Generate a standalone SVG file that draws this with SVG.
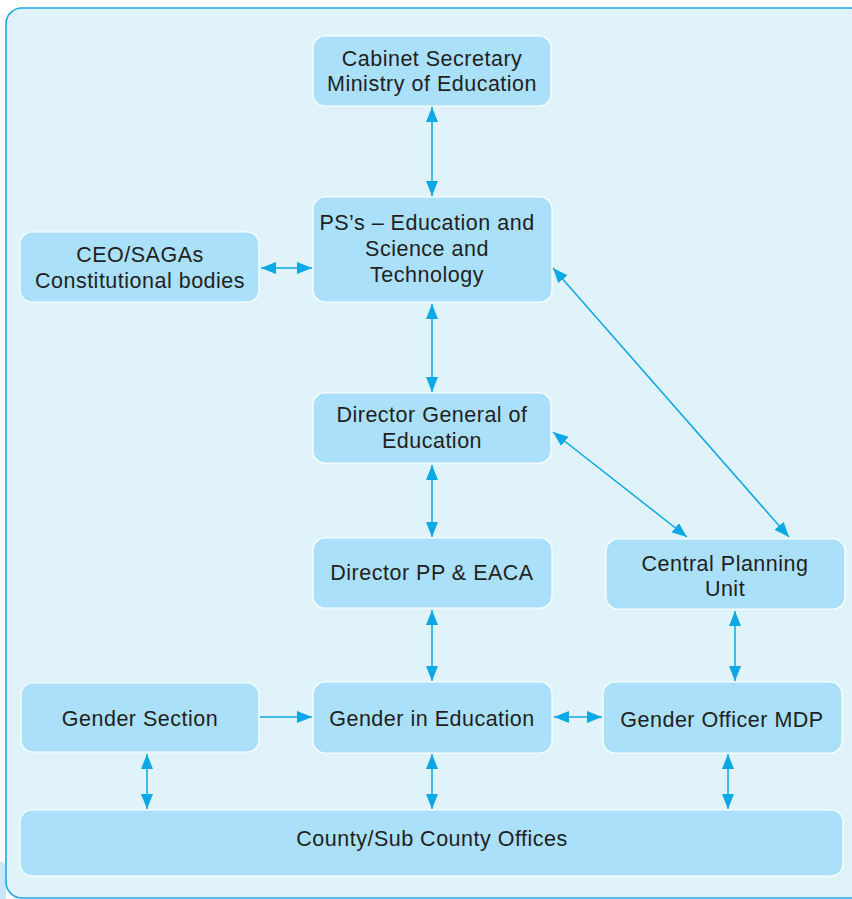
<svg xmlns="http://www.w3.org/2000/svg" width="852" height="899" viewBox="0 0 852 899">
<defs>
<style>
.node rect{fill:#aae0fa;stroke:#ffffff;stroke-width:1.2}
.node text{font-family:"Liberation Sans",Arial,sans-serif;font-size:21.5px;letter-spacing:0.5px;fill:#231f20;text-anchor:middle}
.conn line{stroke:#0aa8e6;stroke-width:1.5;fill:none}
</style>
<marker id="ah" viewBox="0 0 15 12" refX="15" refY="6" markerWidth="15" markerHeight="12" markerUnits="userSpaceOnUse" orient="auto-start-reverse">
<path d="M0,0 L15,6 L0,12 Z" fill="#0aa8e6"/>
</marker>
</defs>
<rect x="0" y="0" width="852" height="899" fill="#ffffff"/>
<path d="M0,862 Q4,860 6,866 L6,899 L0,899 Z" fill="#c9e8f7"/>
<rect x="6" y="8" width="860" height="890" rx="16" ry="16" fill="#e0f3fb" stroke="#1fa9e3" stroke-width="1.6"/>

<g class="conn">
<line x1="432" y1="107" x2="432" y2="196" marker-start="url(#ah)" marker-end="url(#ah)"/>
<line x1="261" y1="268" x2="312" y2="268" marker-start="url(#ah)" marker-end="url(#ah)"/>
<line x1="432" y1="304" x2="432" y2="392" marker-start="url(#ah)" marker-end="url(#ah)"/>
<line x1="553" y1="268" x2="789" y2="537" marker-start="url(#ah)" marker-end="url(#ah)"/>
<line x1="553" y1="432" x2="687" y2="537" marker-start="url(#ah)" marker-end="url(#ah)"/>
<line x1="432" y1="465" x2="432" y2="537" marker-start="url(#ah)" marker-end="url(#ah)"/>
<line x1="432" y1="610" x2="432" y2="681" marker-start="url(#ah)" marker-end="url(#ah)"/>
<line x1="735" y1="611" x2="735" y2="681" marker-start="url(#ah)" marker-end="url(#ah)"/>
<line x1="260" y1="717" x2="312" y2="717" marker-end="url(#ah)"/>
<line x1="554" y1="717" x2="602" y2="717" marker-start="url(#ah)" marker-end="url(#ah)"/>
<line x1="147" y1="754" x2="147" y2="809" marker-start="url(#ah)" marker-end="url(#ah)"/>
<line x1="432" y1="754" x2="432" y2="809" marker-start="url(#ah)" marker-end="url(#ah)"/>
<line x1="728" y1="754" x2="728" y2="809" marker-start="url(#ah)" marker-end="url(#ah)"/>
</g>

<g id="cabinet" class="node">
<rect x="313" y="36" width="238" height="70" rx="12"/>
<text x="432" y="66">Cabinet Secretary</text>
<text x="432" y="91">Ministry of Education</text>
</g>
<g id="ps" class="node">
<rect x="313" y="197" width="239" height="105" rx="12"/>
<text x="427" y="230">PS’s – Education and</text>
<text x="427" y="256">Science and</text>
<text x="427" y="282">Technology</text>
</g>
<g id="ceo" class="node">
<rect x="20" y="232" width="239" height="70" rx="12"/>
<text x="140" y="262">CEO/SAGAs</text>
<text x="140" y="288">Constitutional bodies</text>
</g>
<g id="dg" class="node">
<rect x="313" y="393" width="238" height="70" rx="12"/>
<text x="432" y="422">Director General of</text>
<text x="432" y="448">Education</text>
</g>
<g id="dpp" class="node">
<rect x="313" y="538" width="239" height="70" rx="12"/>
<text x="432" y="580">Director PP &amp; EACA</text>
</g>
<g id="cpu" class="node">
<rect x="606" y="539" width="239" height="70" rx="12"/>
<text x="725" y="571">Central Planning</text>
<text x="725" y="596">Unit</text>
</g>
<g id="gs" class="node">
<rect x="21" y="683" width="238" height="69" rx="12"/>
<text x="140" y="726">Gender Section</text>
</g>
<g id="gie" class="node">
<rect x="313" y="682" width="239" height="71" rx="12"/>
<text x="432" y="726">Gender in Education</text>
</g>
<g id="gom" class="node">
<rect x="603" y="682" width="239" height="71" rx="12"/>
<text x="722" y="727">Gender Officer MDP</text>
</g>
<g id="county" class="node">
<rect x="20" y="810" width="823" height="66" rx="12"/>
<text x="432" y="846">County/Sub County Offices</text>
</g>
</svg>
